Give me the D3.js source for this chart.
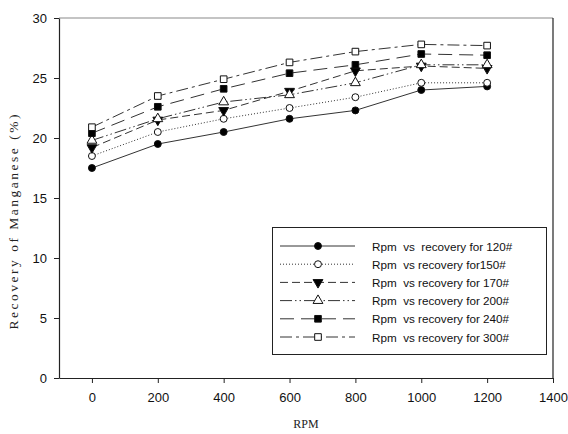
<!DOCTYPE html>
<html>
<head>
<meta charset="utf-8">
<script src="https://cdn.jsdelivr.net/npm/d3@7"></script>
<style>
  body { margin: 0; background: #fff; }
  svg { display: block; }
</style>
</head>
<body>
<div id="chart"></div>
<script>
// rpm values and recovery per mesh size
const rpm = [0, 200, 400, 600, 800, 1000, 1200];
const rec120 = [17.5, 19.5, 20.5, 21.6, 22.3, 24.0, 24.3];
const rec150 = [18.5, 20.5, 21.6, 22.5, 23.4, 24.6, 24.6];
const rec170 = [19.2, 21.5, 22.3, 23.9, 25.6, 26.0, 25.8];
const rec200 = [19.8, 21.6, 23.0, 23.6, 24.6, 26.1, 26.1];
const rec240 = [20.4, 22.6, 24.1, 25.4, 26.1, 27.0, 26.9];
const rec300 = [20.9, 23.5, 24.9, 26.3, 27.2, 27.8, 27.7];
const seriesNames = [
    "Rpm  vs  recovery for 120#",
    "Rpm  vs recovery for150#",
    "Rpm  vs recovery for 170#",
    "Rpm  vs recovery for 200#",
    "Rpm  vs recovery for 240#",
    "Rpm  vs recovery for 300#"
];
const xTicks = [0, 200, 400, 600, 800, 1000, 1200, 1400];
const yTicks = [0, 5, 10, 15, 20, 25, 30];

const width = 568, height = 434;
const margin = { left: 59, right: 15, top: 18, bottom: 56 };

const svg = d3.select("#chart").append("svg")
    .attr("width", width)
    .attr("height", height);

const x = d3.scaleLinear().domain([-100, 1400]).range([margin.left, width - margin.right]);
const y = d3.scaleLinear().domain([0, 30]).range([height - margin.bottom, margin.top]);

// series styles: dash pattern + marker
const styles = [
    { dash: null, sym: d3.symbolCircle, fill: "#000" },
    { dash: "1,2", sym: d3.symbolCircle, fill: "#fff" },
    { dash: "8,4", sym: d3.symbolTriangle, fill: "#000", rot: 180 },
    { dash: "12,3,1.5,3,1.5,3", sym: d3.symbolTriangle, fill: "#fff" },
    { dash: "14,7", sym: d3.symbolSquare, fill: "#000" },
    { dash: "12,4,3,4", sym: d3.symbolSquare, fill: "#fff" }
];
const allSeries = [rec120, rec150, rec170, rec200, rec240, rec300];

// frame (top gray, right dark)
svg.append("line")
    .attr("x1", x(-100)).attr("x2", x(1400))
    .attr("y1", y(30)).attr("y2", y(30))
    .attr("stroke", "#8a8a8a").attr("stroke-width", 1.2);
svg.append("line")
    .attr("x1", x(1400)).attr("x2", x(1400))
    .attr("y1", y(30)).attr("y2", y(0))
    .attr("stroke", "#222").attr("stroke-width", 1.2);

// axes
const xAxis = svg.append("g")
    .attr("transform", `translate(0,${y(0)})`)
    .call(d3.axisBottom(x).tickValues(xTicks).tickFormat(d3.format("d"))
        .tickSize(5).tickPadding(10).tickSizeOuter(0));
const yAxis = svg.append("g")
    .attr("transform", `translate(${x(-100)},0)`)
    .call(d3.axisLeft(y).tickValues(yTicks).tickSize(5).tickPadding(7).tickSizeOuter(0));

[xAxis, yAxis].forEach(g => {
    g.select(".domain").attr("stroke", "#222").attr("stroke-width", 1.2);
    g.selectAll(".tick line").attr("stroke", "#222");
    g.selectAll("text")
        .attr("fill", "#111")
        .style("font-family", "'Liberation Sans', Arial, sans-serif")
        .style("font-size", "13px");
});

// axis titles
svg.append("text")
    .attr("x", x(650)).attr("y", 428)
    .attr("text-anchor", "middle")
    .style("font-family", "'Liberation Serif', 'Times New Roman', serif")
    .style("font-size", "12px")
    .attr("fill", "#222")
    .text("RPM");

svg.append("text")
    .attr("transform", "translate(18,222) rotate(-90)")
    .attr("text-anchor", "middle")
    .style("font-family", "'Liberation Serif', 'Times New Roman', serif")
    .style("font-size", "13.5px")
    .attr("textLength", 215)
    .attr("lengthAdjust", "spacing")
    .attr("fill", "#222")
    .text("Recovery of Manganese (%)");

const line = d3.line()
    .x((d, i) => x(rpm[i]))
    .y(d => y(d));

function drawMarker(g, st, cx, cy) {
    const size = st.sym === d3.symbolTriangle ? 42 : st.sym === d3.symbolSquare ? 44 : 38;
    g.append("path")
        .attr("d", d3.symbol().type(st.sym).size(size)())
        .attr("transform", `translate(${cx},${cy})` + (st.rot ? ` rotate(${st.rot})` : ""))
        .attr("fill", st.fill)
        .attr("stroke", "#111")
        .attr("stroke-width", 1);
}

allSeries.forEach((vals, s) => {
    const st = styles[s];
    svg.append("path")
        .datum(vals)
        .attr("d", line)
        .attr("fill", "none")
        .attr("stroke", "#333")
        .attr("stroke-width", 1)
        .attr("stroke-dasharray", st.dash);
});
allSeries.forEach((vals, s) => {
    const g = svg.append("g");
    vals.forEach((v, i) => drawMarker(g, styles[s], x(rpm[i]), y(v)));
});

// legend
const legend = svg.append("g");
legend.append("rect")
    .attr("x", 272.5).attr("y", 227.5)
    .attr("width", 274).attr("height", 127)
    .attr("fill", "#fff")
    .attr("stroke", "#222");

seriesNames.forEach((name, s) => {
    const st = styles[s];
    const ly = 246 + s * 18.2;
    legend.append("line")
        .attr("x1", 280).attr("x2", 355)
        .attr("y1", ly).attr("y2", ly)
        .attr("stroke", "#333")
        .attr("stroke-dasharray", st.dash);
    drawMarker(legend, st, 318, ly);
    legend.append("text")
        .attr("x", 372).attr("y", ly + 4.5)
        .attr("xml:space", "preserve")
        .style("white-space", "pre")
        .style("font-family", "'Liberation Sans', Arial, sans-serif")
        .style("font-size", "11.7px")
        .attr("fill", "#111")
        .text(name);
});
</script>
</body>
</html>
